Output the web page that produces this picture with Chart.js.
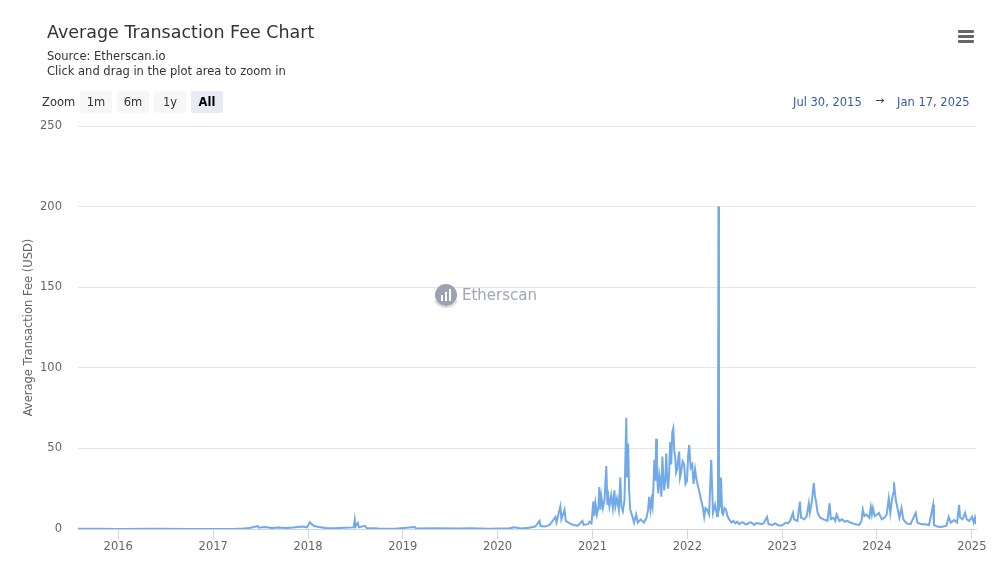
<!DOCTYPE html>
<html>
<head>
<meta charset="utf-8">
<title>Average Transaction Fee Chart</title>
<script src="https://cdn.jsdelivr.net/npm/chart.js@4.4.1/dist/chart.umd.min.js"></script>
<style>
  body { margin: 0; background: #fff; font-family: "DejaVu Sans", sans-serif; }
  #wrap { position: relative; width: 999px; height: 577px; overflow: hidden; }
  #feeChart { position: absolute; left: 0; top: 0; }
  .title { position: absolute; left: 47px; top: 22px; font-size: 17.5px; color: #333; white-space: nowrap; }
  .sub { position: absolute; left: 47px; font-size: 11.5px; color: #333; white-space: nowrap; }
  .zoomlbl { position: absolute; left: 42px; top: 95px; font-size: 11.5px; color: #333; }
  .btn { position: absolute; top: 91px; width: 32px; height: 22px; line-height: 22px; text-align: center;
         font-size: 11.5px; color: #333; background: #f7f7f7; border-radius: 2px; }
  .btn.on { background: #e6ebf5; font-weight: bold; color: #000; }
  .range { position: absolute; top: 95px; font-size: 11.5px; color: #335cad; white-space: nowrap; }
  .arrow { position: absolute; top: 94px; left: 875px; font-size: 11px; color: #444; }
  .menu { position: absolute; left: 958px; width: 16px; height: 3px; background: #666; border-radius: 1px; }
</style>
</head>
<body>
<div id="wrap">
  <canvas id="feeChart" width="999" height="577"></canvas>
  <div class="title">Average Transaction Fee Chart</div>
  <div class="sub" style="top:49px">Source: Etherscan.io</div>
  <div class="sub" style="top:64px">Click and drag in the plot area to zoom in</div>
  <div class="zoomlbl">Zoom</div>
  <div class="btn" style="left:80px">1m</div>
  <div class="btn" style="left:117px">6m</div>
  <div class="btn" style="left:154px">1y</div>
  <div class="btn on" style="left:191px">All</div>
  <div class="range" style="left:793px">Jul 30, 2015</div>
  <div class="arrow">&rarr;</div>
  <div class="range" style="left:897px">Jan 17, 2025</div>
  <div class="menu" style="top:30px"></div>
  <div class="menu" style="top:35px"></div>
  <div class="menu" style="top:40px"></div>
</div>
<script>
// daily average fee (USD), sampled off the chart
const dates = [
  "2015-07-30", "2015-10-01", "2016-01-01", "2016-06-01", "2016-10-01", "2017-01-01", "2017-04-01", "2017-04-26",
  "2017-05-20", "2017-06-22", "2017-06-26", "2017-07-18", "2017-08-15", "2017-09-10", "2017-10-10", "2017-11-05",
  "2017-12-12", "2017-12-28", "2018-01-08", "2018-01-15", "2018-01-25", "2018-02-10", "2018-03-10", "2018-04-15",
  "2018-05-20", "2018-06-26", "2018-06-30", "2018-07-03", "2018-07-12", "2018-07-16", "2018-08-08", "2018-08-15",
  "2018-10-01", "2018-12-01", "2019-02-16", "2019-02-22", "2019-05-01", "2019-08-01", "2019-09-20", "2019-12-01",
  "2020-02-15", "2020-03-06", "2020-04-01", "2020-05-01", "2020-05-25", "2020-06-11", "2020-06-15", "2020-07-01",
  "2020-07-20", "2020-08-11", "2020-08-15", "2020-08-30", "2020-09-03", "2020-09-15", "2020-09-20", "2020-10-05",
  "2020-10-20", "2020-11-05", "2020-11-23", "2020-11-28", "2020-12-15", "2020-12-20", "2020-12-28", "2021-01-04",
  "2021-01-08", "2021-01-12", "2021-01-18", "2021-01-24", "2021-01-27", "2021-01-31", "2021-02-04", "2021-02-10",
  "2021-02-16", "2021-02-23", "2021-02-27", "2021-03-03", "2021-03-07", "2021-03-14", "2021-03-20", "2021-03-26",
  "2021-03-30", "2021-04-05", "2021-04-12", "2021-04-18", "2021-04-22", "2021-04-28", "2021-05-04", "2021-05-11",
  "2021-05-14", "2021-05-18", "2021-05-22", "2021-05-26", "2021-06-03", "2021-06-10", "2021-06-18", "2021-06-24",
  "2021-07-05", "2021-07-18", "2021-07-28", "2021-08-03", "2021-08-07", "2021-08-12", "2021-08-16", "2021-08-20",
  "2021-08-24", "2021-08-27", "2021-08-31", "2021-09-03", "2021-09-06", "2021-09-11", "2021-09-15", "2021-09-19",
  "2021-09-23", "2021-09-27", "2021-10-01", "2021-10-04", "2021-10-08", "2021-10-12", "2021-10-15", "2021-10-19",
  "2021-10-23", "2021-10-27", "2021-10-31", "2021-11-04", "2021-11-08", "2021-11-12", "2021-11-15", "2021-11-19",
  "2021-11-23", "2021-11-27", "2021-12-01", "2021-12-04", "2021-12-08", "2021-12-14", "2021-12-20", "2021-12-25",
  "2021-12-31", "2022-01-04", "2022-01-08", "2022-01-14", "2022-01-20", "2022-01-25", "2022-01-31", "2022-02-06",
  "2022-02-12", "2022-02-18", "2022-02-23", "2022-03-01", "2022-03-07", "2022-03-12", "2022-03-18", "2022-03-26",
  "2022-04-03", "2022-04-10", "2022-04-18", "2022-04-26", "2022-04-29", "2022-05-01", "2022-05-03", "2022-05-07",
  "2022-05-11", "2022-05-15", "2022-05-19", "2022-05-24", "2022-05-30", "2022-06-05", "2022-06-11", "2022-06-20",
  "2022-06-28", "2022-07-05", "2022-07-12", "2022-07-20", "2022-07-28", "2022-08-05", "2022-08-12", "2022-08-20",
  "2022-08-28", "2022-09-05", "2022-09-15", "2022-09-23", "2022-10-01", "2022-10-15", "2022-10-24", "2022-11-04",
  "2022-11-10", "2022-11-25", "2022-12-05", "2022-12-15", "2022-12-28", "2023-01-08", "2023-01-15", "2023-01-24",
  "2023-02-01", "2023-02-12", "2023-02-16", "2023-03-01", "2023-03-11", "2023-03-15", "2023-03-28", "2023-04-06",
  "2023-04-14", "2023-04-18", "2023-04-25", "2023-05-03", "2023-05-08", "2023-05-12", "2023-05-18", "2023-05-28",
  "2023-06-10", "2023-06-25", "2023-07-03", "2023-07-08", "2023-07-18", "2023-07-25", "2023-07-30", "2023-08-10",
  "2023-08-20", "2023-08-30", "2023-09-10", "2023-09-20", "2023-10-01", "2023-10-10", "2023-10-25", "2023-11-03",
  "2023-11-08", "2023-11-14", "2023-11-22", "2023-12-03", "2023-12-09", "2023-12-13", "2023-12-17", "2023-12-24",
  "2024-01-02", "2024-01-09", "2024-01-20", "2024-01-30", "2024-02-08", "2024-02-16", "2024-02-22", "2024-02-28",
  "2024-03-04", "2024-03-07", "2024-03-10", "2024-03-14", "2024-03-20", "2024-03-28", "2024-04-05", "2024-04-12",
  "2024-04-25", "2024-05-10", "2024-05-30", "2024-06-05", "2024-06-20", "2024-07-05", "2024-07-20", "2024-08-05",
  "2024-08-08", "2024-08-20", "2024-09-05", "2024-09-25", "2024-10-04", "2024-10-12", "2024-10-25", "2024-11-05",
  "2024-11-13", "2024-11-17", "2024-11-26", "2024-12-06", "2024-12-12", "2024-12-22", "2025-01-02", "2025-01-08",
  "2025-01-13", "2025-01-17"
];
const fees = [
  0.2, 0.1, 0.05, 0.1, 0.05, 0.05, 0.1, 0.3,
  0.6, 1.8, 0.8, 1.2, 0.6, 1.0, 0.6, 0.9,
  1.6, 1.0, 4.2, 3.0, 1.8, 1.2, 0.6, 0.5,
  0.7, 1.0, 5.8, 1.5, 3.8, 1.0, 2.0, 0.6,
  0.3, 0.2, 1.2, 0.3, 0.4, 0.3, 0.5, 0.2,
  0.4, 1.0, 0.3, 0.8, 1.5, 5.0, 1.8, 1.5,
  2.5, 7.5, 4.0, 14, 6, 12, 5, 3.5,
  2.5, 2.0, 5, 2.5, 3.0, 4.5, 3.5, 17,
  8, 16, 9, 14, 26, 12, 20, 13,
  18, 39, 15, 20, 14, 21, 13, 24,
  14, 19, 12, 32, 14, 11, 18, 69,
  32, 53, 24, 12, 8, 4, 9, 4,
  6, 4, 7, 12, 20, 12, 18, 14,
  28, 43, 30, 56, 35, 22, 34, 30,
  20, 45, 30, 24, 30, 47, 33, 25,
  35, 54, 40, 60, 62.5, 48, 45, 35,
  37, 44, 48, 32, 35, 42, 40, 28,
  30, 45, 52, 38, 40, 28, 37, 30,
  26, 22, 18, 14, 7.5, 13, 12, 9,
  43, 10, 15, 8, 9, 200, 12, 14,
  32, 10, 9, 13, 12, 8, 6, 4,
  5, 3.5, 4.5, 3, 4, 4, 3, 3,
  4, 4, 2.5, 3.5, 3.5, 3, 4, 7.5,
  3, 2.5, 3.5, 2.5, 2, 3, 4, 3.5,
  5, 10, 6, 5, 17, 7, 6, 8,
  16, 10, 16, 28.5, 20, 17, 10, 7,
  6, 5, 16, 6, 7, 5, 9, 5,
  6, 4.5, 5, 4, 3.5, 3, 2.5, 5,
  12, 8, 9, 7, 13.5, 9, 13, 8,
  9, 10, 6, 7, 9, 19, 10, 18,
  22, 29, 24, 18, 13.5, 7, 13, 6,
  3.5, 3, 10, 4, 3, 3, 2.5, 15,
  2.5, 1.5, 1.2, 2, 7.5, 4, 5.5, 4,
  15, 7, 6, 10, 6, 5, 7.5, 4,
  7, 3
];
const yearLabels = ["2016", "2017", "2018", "2019", "2020", "2021", "2022", "2023", "2024", "2025"];
const feeTicks = [0, 50, 100, 150, 200, 250];

const toTime = d => Date.parse(d + "T00:00:00Z");
const points = dates.map((d, i) => ({ x: toTime(d), y: fees[i] }));

const watermark = {
  id: "watermark",
  beforeDatasetsDraw(chart) {
    const ctx = chart.ctx;
    ctx.save();
    ctx.fillStyle = "#9ca1b4";
    ctx.beginPath();
    ctx.arc(446, 295, 11, 0, Math.PI * 2);
    ctx.fill();
    ctx.fillStyle = "#fff";
    ctx.fillRect(441, 295, 2, 6);
    ctx.fillRect(445, 292, 2, 9);
    ctx.fillRect(449, 289, 2, 12);
    ctx.strokeStyle = "#d7d9e0";
    ctx.lineWidth = 2;
    ctx.beginPath();
    ctx.arc(446, 295, 12, 0.15 * Math.PI, 0.85 * Math.PI);
    ctx.stroke();
    ctx.fillStyle = "#a0a5b6";
    ctx.font = "15px 'DejaVu Sans', sans-serif";
    ctx.textBaseline = "middle";
    ctx.fillText("Etherscan", 462, 296);
    ctx.restore();
  }
};

new Chart(document.getElementById("feeChart"), {
  type: "line",
  data: {
    datasets: [{
      data: points,
      borderColor: "#72a9e8",
      borderWidth: 2,
      pointRadius: 0,
      tension: 0,
      fill: false
    }]
  },
  options: {
    responsive: false,
    animation: false,
    layout: { padding: { top: 126, right: 23, left: 0, bottom: 0 } },
    plugins: { legend: { display: false }, tooltip: { enabled: false } },
    scales: {
      x: {
        type: "linear",
        min: toTime("2015-07-30"),
        max: toTime("2025-01-17"),
        afterBuildTicks: s => { s.ticks = yearLabels.map(y => ({ value: toTime(y + "-01-01") })); },
        afterFit: s => { s.height = 48; },
        ticks: {
          autoSkip: false,
          maxRotation: 0,
          padding: 1,
          color: "#666",
          font: { family: "'DejaVu Sans', sans-serif", size: 11.5 },
          callback: v => String(new Date(v).getUTCFullYear())
        },
        grid: { drawOnChartArea: false, drawTicks: true, tickLength: 10, color: "#ccd6eb" },
        border: { color: "#ccd6eb" }
      },
      y: {
        min: 0,
        max: 250,
        afterBuildTicks: s => { s.ticks = feeTicks.map(v => ({ value: v })); },
        afterFit: s => { s.width = 78; },
        ticks: {
          padding: 16,
          color: "#666",
          font: { family: "'DejaVu Sans', sans-serif", size: 11.5 }
        },
        grid: { color: "#e6e6e6", drawTicks: false },
        border: { display: false },
        title: {
          display: true,
          text: "Average Transaction Fee (USD)",
          color: "#666",
          font: { family: "'DejaVu Sans', sans-serif", size: 11.5 },
          padding: { top: 22, bottom: 0 }
        }
      }
    }
  },
  plugins: [watermark]
});
</script>
</body>
</html>
